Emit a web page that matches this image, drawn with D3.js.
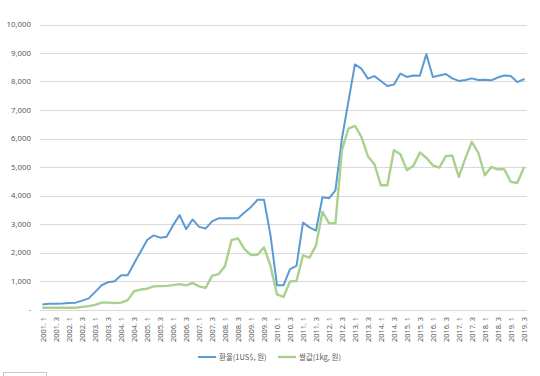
<!DOCTYPE html>
<html><head><meta charset="utf-8">
<script src="https://cdn.jsdelivr.net/npm/d3@7"></script>
<style>
html,body{margin:0;padding:0;background:#fff;}
svg{display:block;}
</style></head>
<body>
<svg id="chart" width="540" height="376"></svg>
<script>
const years = d3.range(2001, 2020);
const quarters = [1, 2, 3, 4];
const seriesNames = ["환율(1US$, 원)", "쌀값(1kg, 원)"];
const yTicks = [0, 1000, 2000, 3000, 4000, 5000, 6000, 7000, 8000, 9000, 10000];

const exchangeRate = [
  180, 200, 200, 210, 230, 240, 310, 390, 620, 850,
  960, 990, 1200, 1200, 1620, 2030, 2440, 2600, 2520, 2550,
  2960, 3310, 2820, 3160, 2900, 2840, 3090, 3200, 3200, 3200,
  3200, 3400, 3600, 3850, 3850, 2600, 850, 850, 1420, 1530,
  3050, 2880, 2770, 3940, 3900, 4180, 6000, 7300, 8600, 8450,
  8100, 8190, 8020, 7840, 7890, 8280, 8160, 8210, 8200, 8960,
  8160, 8210, 8260, 8110, 8020, 8050, 8110, 8050, 8060, 8040,
  8140, 8210, 8190, 7980, 8080
];
const ricePrice = [
  60, 60, 60, 60, 60, 60, 90, 120, 160, 240,
  240, 230, 240, 330, 640, 700, 730, 810, 820, 830,
  855, 890, 850, 930, 810, 760, 1180, 1240, 1530, 2440,
  2490, 2120, 1910, 1920, 2180, 1530, 530, 440, 980, 1000,
  1900, 1820, 2240, 3430, 3030, 3030, 5590, 6350, 6440, 6060,
  5380, 5100, 4360, 4360, 5590, 5450, 4890, 5040, 5510, 5320,
  5060, 4980, 5380, 5400, 4650, 5300, 5880, 5500, 4710, 5000,
  4920, 4920, 4480, 4440, 4970
];

// categories: 2001. 1 ... 2019. 3 (quarterly)
const categories = [];
years.forEach(y => quarters.forEach(q => { if (!(y === 2019 && q === 4)) categories.push(y + ". " + q); }));
const n = categories.length;

const svg = d3.select("#chart");
const x = d3.scaleBand().domain(categories).range([40, 527]).padding(0);
const xc = c => x(c) + x.bandwidth() / 2;
const y = d3.scaleLinear().domain([0, 10000]).range([309.5, 24.5]);

const fontNum = "'Noto Sans', 'Open Sans', sans-serif";
const fontKr = "'Noto Sans CJK KR', 'Noto Sans', sans-serif";

// grid
svg.append("g").selectAll("line").data(yTicks).join("line")
  .attr("x1", 40).attr("x2", 527)
  .attr("y1", d => Math.round(y(d)) + 0.5).attr("y2", d => Math.round(y(d)) + 0.5)
  .attr("stroke", "#d9d9d9").attr("stroke-width", 1);

// y labels
svg.append("g").selectAll("text").data(yTicks).join("text")
  .attr("x", 31).attr("y", d => y(d)).attr("dy", "0.35em")
  .attr("text-anchor", "end")
  .attr("font-family", fontNum).attr("font-size", 7.8).attr("fill", "#595959")
  .text(d => d === 0 ? "-" : d3.format(",")(d));

// x labels
const labelCats = categories.filter((c, i) => i % 2 === 0);
svg.append("g").selectAll("text").data(labelCats).join("text")
  .attr("transform", d => `translate(${xc(d) + 2.8},317) rotate(-90)`)
  .attr("text-anchor", "end")
  .attr("font-family", fontNum).attr("font-size", 7.4).attr("fill", "#595959")
  .text(d => d);

const seriesData = [
  {name: seriesNames[0], values: exchangeRate, color: "#5b9bd5", width: 2},
  {name: seriesNames[1], values: ricePrice, color: "#a9d18e", width: 2.4}
];

const line = d3.line().x((d, i) => xc(categories[i])).y(d => y(d));

seriesData.forEach(s => {
  svg.append("path")
    .datum(s.values.slice(0, n))
    .attr("d", line)
    .attr("fill", "none")
    .attr("stroke", s.color)
    .attr("stroke-width", s.width)
    .attr("stroke-linejoin", "round")
    .attr("stroke-linecap", "round");
});

// legend
const legendX = [198, 278];
seriesData.forEach((s, i) => {
  const g = svg.append("g").attr("transform", `translate(${legendX[i]},357)`);
  g.append("line").attr("x1", 0).attr("x2", 18).attr("y1", 0).attr("y2", 0)
    .attr("stroke", s.color).attr("stroke-width", s.width);
  g.append("text").attr("x", 21).attr("y", 0).attr("dy", "0.35em")
    .attr("font-family", fontKr).attr("font-size", 7.5).attr("fill", "#595959")
    .text(s.name);
});

// small box at bottom-left corner
svg.append("rect").attr("x", 3.5).attr("y", 372.5).attr("width", 43).attr("height", 10)
  .attr("fill", "#fff").attr("stroke", "#c8c8c8");
</script>
</body></html>
